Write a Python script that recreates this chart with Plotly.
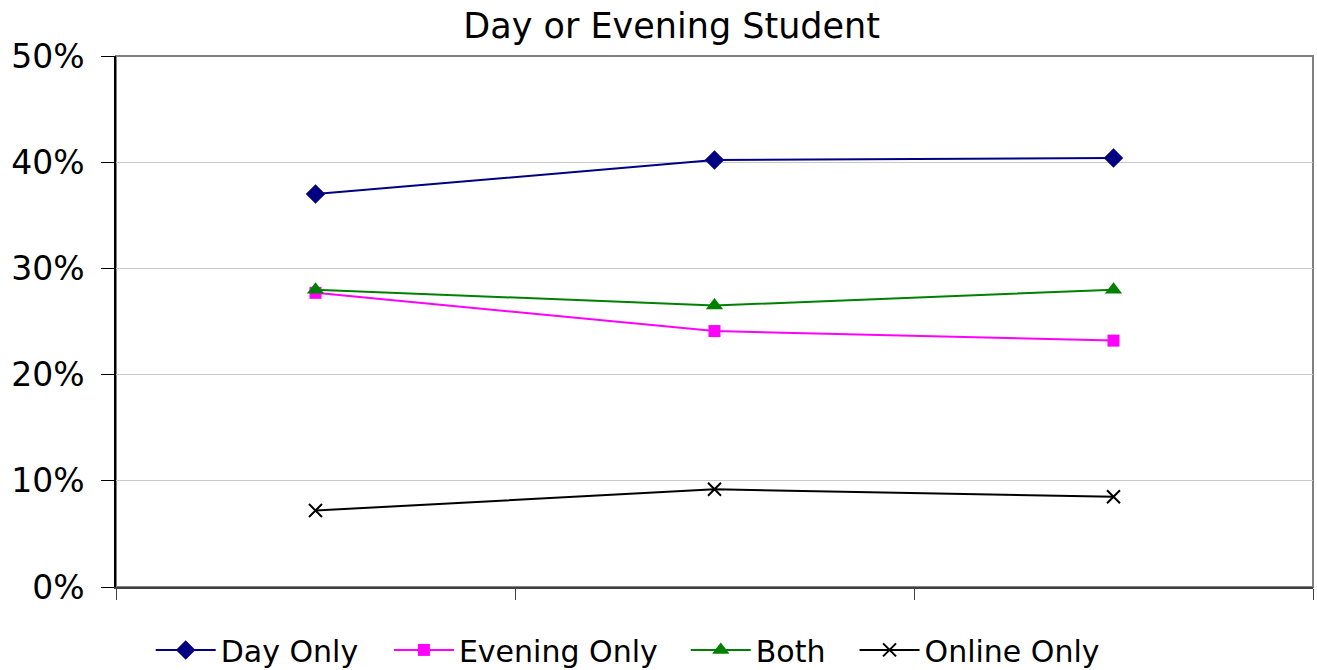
import plotly.graph_objects as go

categories = ["Period 1", "Period 2", "Period 3"]
day_only = [0.370, 0.402, 0.404]
evening_only = [0.277, 0.241, 0.232]
both = [0.280, 0.265, 0.280]
online_only = [0.072, 0.092, 0.085]
y_ticks = [0, 0.1, 0.2, 0.3, 0.4, 0.5]
y_tick_labels = ["0%", "10%", "20%", "30%", "40%", "50%"]

FONT = "DejaVu Sans"

series = [
    ("Day Only", day_only, "#000080", dict(symbol="diamond", size=15), "legend", 0.029),
    ("Evening Only", evening_only, "#ff00ff", dict(symbol="square", size=12), "legend2", 0.228),
    ("Both", both, "#008000", dict(symbol="triangle-up", size=15), "legend3", 0.476),
    ("Online Only", online_only, "#000000",
     dict(symbol="x-thin", size=13, line=dict(width=2, color="#000000")), "legend4", 0.617),
]

fig = go.Figure()
legends = {}
for name, vals, color, marker, leg, lx in series:
    m = dict(color=color, **marker)
    fig.add_trace(go.Scatter(
        x=categories, y=vals, name=name, mode="lines+markers", legend=leg,
        line=dict(color=color, width=2), marker=m,
    ))
    legends[leg] = dict(orientation="h", x=lx, xanchor="left", yref="container", y=0.030,
                        yanchor="middle",
                        font=dict(family=FONT, size=30, color="#000000"), itemwidth=60,
                        bgcolor="rgba(0,0,0,0)")

fig.update_layout(
    width=1317, height=670,
    margin=dict(l=116, r=4, t=56, b=83),
    paper_bgcolor="white", plot_bgcolor="white",
    title=dict(text="Day or Evening Student", x=0.51, xanchor="center", yref="container",
               y=0.962, yanchor="middle",
               font=dict(family=FONT, size=35, color="#000000")),
    font=dict(family=FONT, color="#000000"),
    showlegend=True,
    shapes=[dict(type="rect", xref="paper", yref="paper", x0=0, x1=1, y0=0, y1=1,
                 line=dict(color="#808080", width=2), layer="below")],
    xaxis=dict(type="category", range=[-0.5, 2.5], showticklabels=False, ticks="outside",
               tickson="boundaries", ticklen=11, tickcolor="#404040", tickwidth=1,
               showline=True, linecolor="#404040", linewidth=2, showgrid=False, zeroline=False),
    yaxis=dict(range=[0, 0.5], tickvals=y_ticks, ticktext=y_tick_labels, ticks="outside",
               ticklen=13, tickcolor="#000000", showline=True, linecolor="#000000", linewidth=1.5,
               showgrid=True, gridcolor="#c8c8c8", gridwidth=1, zeroline=False, automargin=False,
               ticklabelstandoff=10,
               tickfont=dict(family=FONT, size=33, color="#000000")),
    **legends,
)

fig.write_html("out.html", config={"displayModeBar": False},
               post_script="document.body.style.margin='0';")
